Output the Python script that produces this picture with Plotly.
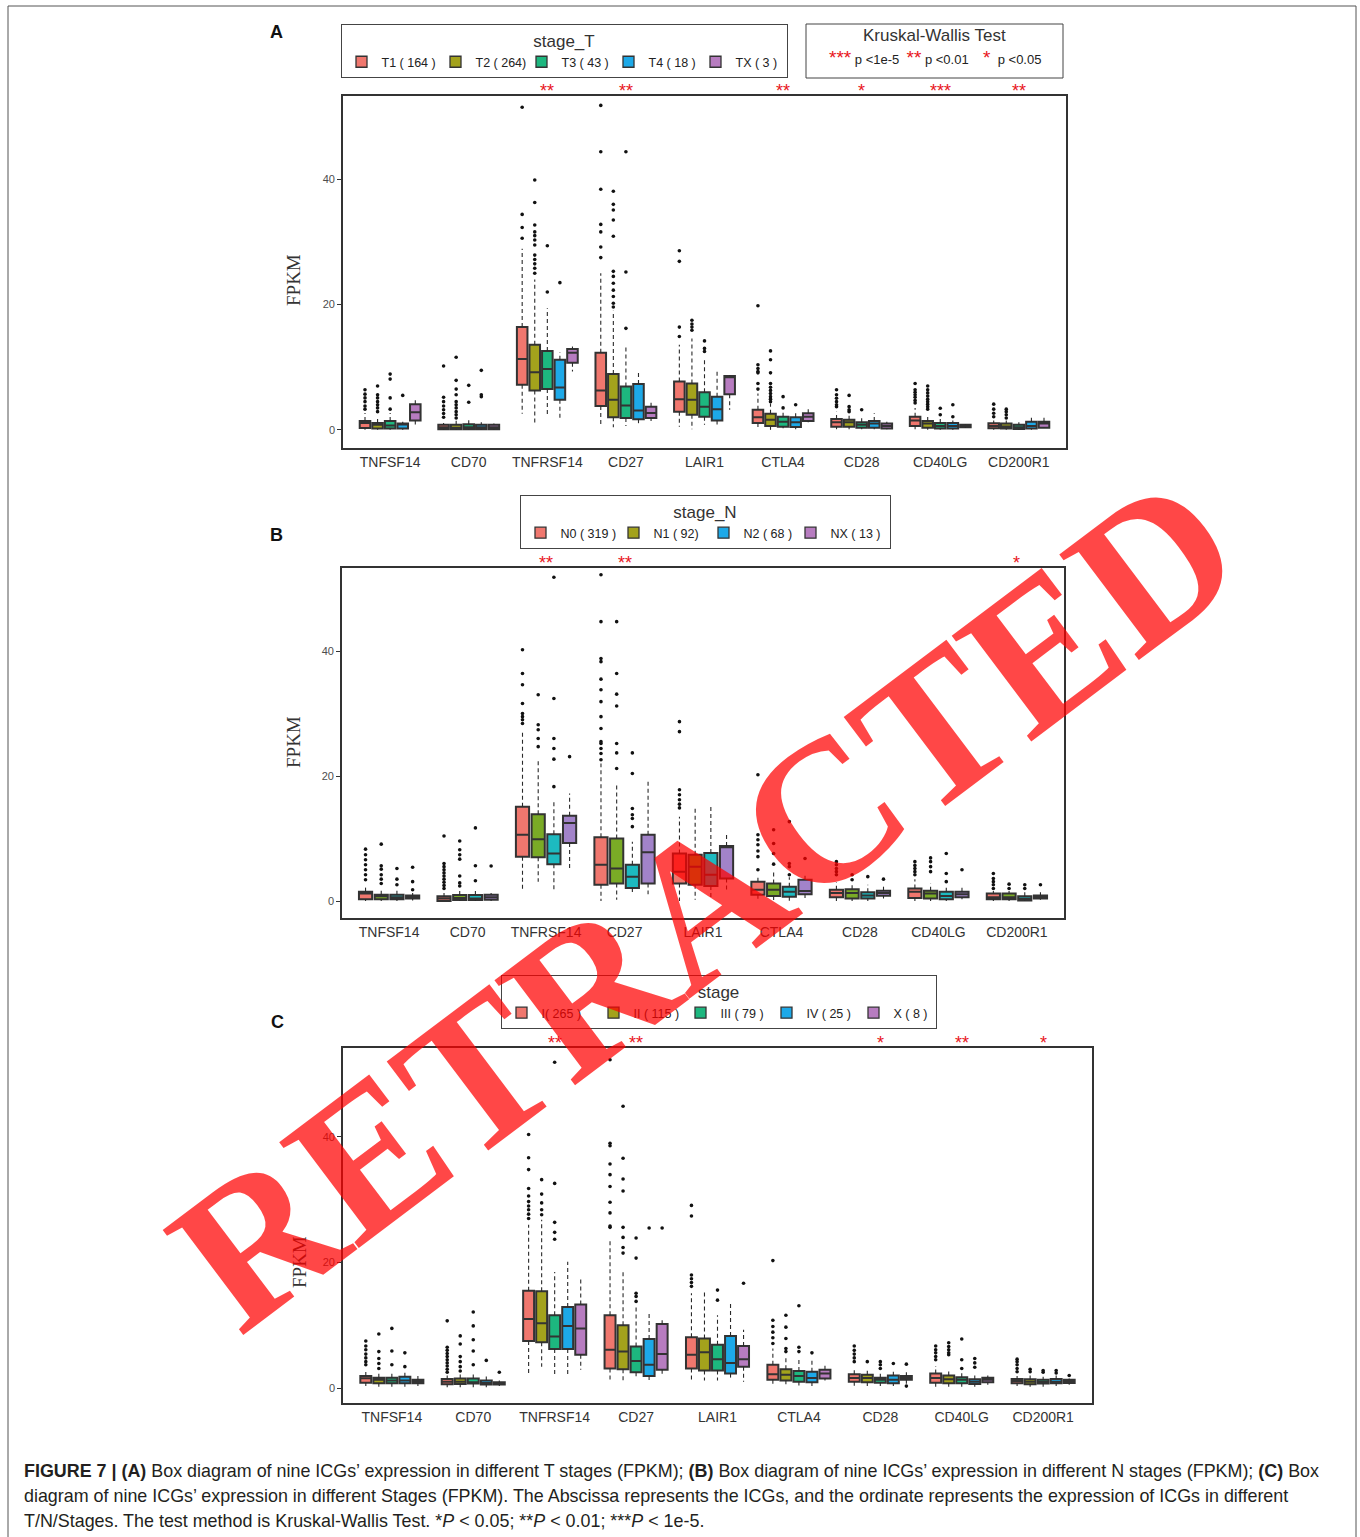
import plotly.graph_objects as go

genes = ["TNFSF14", "CD70", "TNFRSF14", "CD27", "LAIR1", "CTLA4", "CD28", "CD40LG", "CD200R1"]

# ---------------- Panel A : stage_T ----------------
A_names = ["T1 ( 164 )", "T2 ( 264)", "T3 ( 43 )", "T4 ( 18 )", "TX ( 3 )"]
A_q1 = [[0.3, 0.1, 7.2, 3.8, 2.9, 1.1, 0.5, 0.6, 0.25],
        [0.2, 0.1, 6.3, 2.0, 2.4, 0.6, 0.5, 0.35, 0.2],
        [0.2, 0.1, 6.5, 1.9, 2.1, 0.5, 0.35, 0.2, 0.15],
        [0.2, 0.1, 4.8, 1.7, 1.5, 0.45, 0.35, 0.2, 0.2],
        [1.5, 0.1, 10.7, 1.9, 5.7, 1.4, 0.2, 0.4, 0.35]]
A_med = [[1.1, 0.4, 11.3, 6.3, 4.9, 2.0, 1.2, 1.5, 0.6],
         [0.8, 0.35, 9.2, 4.8, 4.8, 1.6, 1.2, 1.0, 0.55],
         [0.7, 0.4, 9.7, 3.9, 3.7, 1.3, 0.8, 0.6, 0.4],
         [0.9, 0.4, 6.75, 3.1, 3.3, 1.2, 1.0, 0.6, 0.6],
         [2.8, 0.4, 12.3, 2.7, 8.4, 2.1, 0.6, 0.6, 1.0]]
A_q3 = [[1.4, 0.8, 16.4, 12.3, 7.7, 3.2, 1.75, 2.1, 1.05],
        [1.1, 0.8, 13.6, 8.9, 7.4, 2.55, 1.6, 1.4, 1.0],
        [1.4, 0.9, 12.6, 6.9, 6.0, 2.1, 1.2, 1.1, 0.8],
        [1.0, 0.8, 11.2, 7.3, 5.3, 2.0, 1.4, 1.1, 1.3],
        [4.1, 0.8, 12.9, 3.7, 8.6, 2.65, 1.0, 0.8, 1.3]]
A_lo = [[0.0, 0.0, 2.55, 0.9, 0.5, 0.0, 0.1, 0.1, 0.0],
        [0.0, 0.0, 1.1, 0.4, 0.1, 0.0, 0.1, 0.0, 0.0],
        [0.0, 0.0, 2.4, 0.6, 0.8, 0.25, 0.1, 0.0, 0.0],
        [0.0, 0.0, 1.9, 0.6, 0.6, 0.1, 0.1, 0.0, 0.0],
        [0.5, 0.0, 9.3, 1.4, 3.2, 1.2, 0.1, 0.3, 0.3]]
A_hi = [[2.7, 1.1, 28.9, 25.0, 13.6, 5.8, 2.9, 3.5, 1.5],
        [2.2, 1.5, 24.0, 19.0, 14.6, 4.2, 2.5, 2.5, 1.5],
        [2.7, 1.6, 19.4, 13.6, 11.2, 3.0, 2.2, 1.8, 1.2],
        [1.3, 1.2, 12.4, 9.4, 9.6, 2.9, 2.65, 1.5, 2.4],
        [5.0, 1.0, 13.3, 4.4, 8.7, 3.5, 1.3, 0.9, 2.2]]
A_out = [
    [[3.3, 3.8, 4.5, 5.1, 5.7, 6.4], [2.0, 2.6, 3.2, 3.8, 4.5, 5.2, 10.2], [30.6, 32.3, 34.4, 51.5],
     [27.5, 29.2, 31.6, 32.8, 38.4, 44.4, 51.8], [14.9, 16.4, 26.9, 28.6], [6.5, 7.4, 9.1, 9.3, 9.8, 10.4, 19.8],
     [3.7, 4.0, 4.5, 5.05, 5.6, 6.4], [4.3, 4.7, 5.2, 5.6, 6.0, 6.4, 7.4], [2.1, 2.65, 3.3, 4.1]],
    [[2.9, 3.5, 4.0, 4.5, 5.1, 5.6, 7.0], [1.9, 2.4, 2.9, 3.5, 4.0, 4.5, 5.6, 6.5, 7.9, 11.6],
     [25.0, 25.8, 26.5, 27.2, 27.9, 29.5, 30.3, 31.0, 31.6, 32.7, 36.3, 39.9],
     [19.6, 20.2, 21.3, 22.3, 23.4, 24.5, 25.3, 30.9, 33.5, 35.1, 36.0, 38.1], [15.9, 16.4, 16.9, 17.5],
     [4.5, 4.9, 5.3, 5.8, 6.3, 6.8, 7.4, 9.1, 11.2, 12.6], [2.9, 3.2, 3.7, 5.5],
     [3.3, 3.7, 4.1, 4.5, 4.9, 5.4, 5.9, 6.4, 7.0], [1.9, 2.4, 2.9, 3.3]],
    [[3.3, 5.1, 8.1, 8.9], [4.4, 7.1], [22.0, 29.4], [16.2, 25.2, 44.4], [12.5, 13.0, 14.2], [3.5, 5.3],
     [3.2], [2.4, 3.45], []],
    [[5.5], [5.3, 5.6, 9.5], [23.5], [], [], [4.0], [], [2.1, 4.0], []],
    [[], [], [], [], [], [], [], [], []]]
A_sig = ["", "", "**", "**", "", "**", "*", "***", "**"]

# ---------------- Panel B : stage_N ----------------
B_names = ["N0 ( 319 )", "N1 ( 92)", "N2 ( 68 )", "NX ( 13 )"]
B_q1 = [[0.3, 0.0, 7.1, 2.6, 2.8, 1.0, 0.6, 0.5, 0.3],
        [0.3, 0.15, 7.0, 2.8, 2.6, 0.8, 0.4, 0.4, 0.3],
        [0.3, 0.15, 5.9, 2.1, 2.4, 0.7, 0.4, 0.3, 0.1],
        [0.4, 0.2, 9.3, 2.8, 3.6, 1.1, 0.85, 0.6, 0.4]]
B_med = [[1.2, 0.4, 10.6, 5.8, 4.7, 1.8, 1.3, 1.5, 0.6],
         [0.75, 0.5, 9.9, 5.2, 5.5, 1.8, 1.3, 1.2, 0.6],
         [0.6, 0.4, 7.6, 3.9, 4.2, 1.5, 0.9, 0.8, 0.35],
         [0.65, 0.6, 12.5, 7.8, 8.6, 1.6, 1.3, 1.1, 0.65]]
B_q3 = [[1.5, 0.75, 15.1, 10.2, 7.6, 3.1, 1.8, 2.0, 1.2],
        [1.0, 0.95, 13.9, 10.0, 7.4, 2.8, 1.9, 1.65, 1.2],
        [1.0, 0.95, 10.7, 5.8, 7.7, 2.3, 1.4, 1.5, 0.75],
        [0.9, 1.0, 13.65, 10.6, 8.8, 3.4, 1.65, 1.5, 0.9]]
B_lo = [[0.0, 0.0, 1.5, 0.0, 0.0, 0.0, 0.0, 0.0, 0.0],
        [0.0, 0.0, 3.1, 0.2, 0.2, 0.0, 0.0, 0.0, 0.0],
        [0.0, 0.0, 1.9, 1.0, 0.2, 0.0, 0.0, 0.0, 0.0],
        [0.1, 0.0, 5.2, 1.1, 1.8, 0.5, 0.4, 0.3, 0.2]]
B_hi = [[2.6, 1.3, 27.1, 22.0, 13.5, 4.2, 3.0, 3.5, 1.6],
        [2.1, 1.8, 22.8, 18.6, 14.8, 4.7, 2.8, 2.8, 1.6],
        [1.8, 1.8, 16.2, 9.5, 15.1, 3.8, 2.6, 2.6, 1.4],
        [1.3, 1.3, 17.2, 19.1, 10.6, 4.4, 2.4, 2.6, 1.4]]
B_out = [
    [[3.4, 4.2, 5.0, 5.8, 6.6, 7.4, 8.3], [2.0, 2.5, 3.0, 3.5, 4.0, 4.5, 5.0, 5.5, 6.0, 10.4],
     [28.4, 29.0, 29.5, 30.0, 31.6, 34.6, 36.4, 40.2],
     [22.6, 23.6, 24.4, 25.2, 25.5, 27.6, 29.5, 31.9, 33.8, 35.5, 38.3, 38.8, 44.7, 52.2],
     [14.9, 15.5, 16.2, 17.0, 17.8, 27.1, 28.7], [5.0, 7.1, 8.0, 9.0, 9.8, 10.6, 20.2],
     [4.2, 4.7, 5.2, 5.8, 6.3], [4.2, 4.7, 5.2, 5.7, 6.3], [2.0, 2.6, 3.1, 3.6, 4.4]],
    [[2.8, 3.5, 4.2, 5.1, 5.65, 9.1], [2.4, 2.9, 4.0, 6.7, 7.4, 8.2, 9.6], [24.7, 26.0, 27.4, 28.2, 33.0],
     [21.2, 23.7, 25.2, 31.2, 33.1, 36.4, 44.7], [], [5.9, 7.6, 9.2, 11.4], [3.4, 4.2],
     [4.7, 5.5, 6.3, 6.9], [2.0, 2.7]],
    [[2.6, 3.5, 5.2], [3.25, 5.65, 11.7], [18.3, 22.7, 24.4, 26.0, 32.4, 51.8],
     [11.9, 13.2, 13.8, 14.8, 20.4, 23.7], [], [4.2, 5.5, 6.0, 12.7], [3.9], [3.1, 4.4, 7.6], [2.0, 2.6]],
    [[1.8, 3.1, 5.4], [5.6], [23.1], [], [], [6.8], [3.5], [5.0], [2.6]]]
B_sig = ["", "", "**", "**", "", "", "", "", "*"]

# ---------------- Panel C : stage ----------------
C_names = ["I( 265 )", "II ( 115 )", "III ( 79 )", "IV ( 25 )", "X ( 8 )"]
C_q1 = [[0.85, 0.6, 7.5, 3.1, 3.1, 1.3, 1.0, 0.85, 0.75],
        [0.75, 0.65, 7.3, 3.0, 2.8, 1.2, 0.9, 0.75, 0.6],
        [0.75, 0.7, 6.2, 2.5, 2.8, 1.0, 0.85, 0.75, 0.7],
        [0.75, 0.55, 6.2, 1.9, 2.3, 0.9, 0.75, 0.65, 0.75],
        [0.75, 0.55, 5.3, 2.9, 3.4, 1.5, 1.3, 0.9, 0.8]]
C_med = [[1.55, 1.0, 11.0, 6.1, 5.3, 2.2, 1.6, 1.6, 1.1],
         [1.3, 1.0, 10.3, 5.8, 5.7, 2.1, 1.6, 1.4, 1.0],
         [1.2, 0.9, 8.2, 4.3, 4.6, 1.9, 1.3, 1.3, 0.95],
         [1.2, 0.8, 9.9, 3.7, 4.0, 1.6, 1.3, 1.0, 1.0],
         [1.0, 0.7, 9.5, 5.4, 4.6, 2.3, 1.6, 1.3, 1.0]]
C_q3 = [[1.9, 1.45, 15.5, 11.6, 8.1, 3.7, 2.2, 2.3, 1.45],
        [1.65, 1.5, 15.4, 10.0, 7.9, 3.0, 2.1, 2.0, 1.4],
        [1.65, 1.5, 11.6, 6.6, 6.9, 2.7, 1.65, 1.7, 1.3],
        [1.8, 1.2, 12.9, 7.8, 8.3, 2.6, 2.0, 1.4, 1.45],
        [1.3, 0.9, 13.3, 10.2, 6.7, 2.9, 1.9, 1.65, 1.3]]
C_lo = [[0.3, 0.1, 2.0, 1.0, 1.0, 0.5, 0.3, 0.2, 0.3],
        [0.2, 0.1, 3.4, 1.2, 1.2, 0.6, 0.3, 0.2, 0.2],
        [0.2, 0.1, 2.2, 1.8, 1.2, 0.4, 0.3, 0.2, 0.2],
        [0.2, 0.1, 2.2, 1.2, 1.5, 0.3, 0.3, 0.2, 0.3],
        [0.3, 0.3, 2.9, 2.0, 1.0, 1.2, 0.6, 0.5, 0.5]]
C_hi = [[2.6, 2.0, 26.0, 23.6, 15.1, 6.3, 2.9, 3.5, 1.9],
        [2.4, 2.2, 26.8, 18.8, 15.5, 5.0, 2.9, 3.0, 2.0],
        [2.4, 2.2, 18.5, 13.0, 11.6, 4.5, 2.6, 2.5, 1.8],
        [2.6, 1.9, 20.1, 11.9, 13.8, 4.7, 2.6, 2.0, 2.0],
        [1.9, 1.2, 17.3, 10.8, 9.3, 3.7, 2.5, 2.0, 1.5]]
C_out = [
    [[3.7, 4.2, 4.8, 5.4, 6.1, 6.7, 7.5], [2.5, 3.0, 3.5, 4.0, 4.5, 5.0, 5.5, 6.0, 6.5, 10.7],
     [27.0, 27.7, 28.4, 29.0, 29.7, 30.6, 31.8, 34.8, 36.7, 40.4],
     [25.6, 25.8, 27.9, 29.6, 32.1, 34.0, 35.7, 38.6, 39.0, 52.3], [16.2, 16.8, 17.4, 18.0, 27.4, 29.1],
     [7.1, 8.0, 8.9, 9.8, 10.8, 20.3], [4.2, 4.8, 5.4, 6.0, 6.7], [4.5, 5.0, 5.6, 6.1, 6.7],
     [2.6, 3.1, 3.7, 4.2, 4.6]],
    [[3.1, 3.9, 4.7, 5.8, 8.6], [2.7, 3.4, 4.2, 5.0, 7.0, 8.3], [27.6, 28.4, 29.5, 30.9, 33.2],
     [21.5, 22.4, 24.0, 25.6, 31.4, 33.3, 36.6, 44.9], [], [5.8, 6.3, 7.9, 9.7, 11.6], [4.2],
     [5.3, 5.6, 6.1, 6.6, 7.2], [2.6, 3.0]],
    [[3.7, 5.9, 9.5], [3.7, 5.9, 7.7, 9.9, 12.1], [23.7, 24.8, 26.4, 32.6, 51.9],
     [13.8, 14.6, 15.1, 20.7, 23.9], [14.0, 15.6], [5.8, 6.5, 13.1], [3.1, 3.7, 4.2], [3.1, 4.5, 7.8],
     [2.5, 2.8]],
    [[3.4, 5.6], [4.4], [], [25.5], [], [5.6], [3.9], [3.3, 4.0, 4.7], [2.4, 2.8]],
    [[], [2.5], [], [25.5], [16.7], [], [0.3, 3.8], [], [2.0]]]
C_sig = ["", "", "**", "**", "", "", "*", "**", "*"]

# ---------------- colours ----------------
PAL5 = ["#F0776E", "#A3A21C", "#1DB77F", "#1DA9E8", "#B77CC0"]
B_box_colors = ["#F0776E", "#7AAB26", "#1DBAC0", "#A283C9"]
B_leg_colors = ["#F0776E", "#A3A21C", "#1DA9E8", "#B77CC0"]

# legend entry widths (px) so the legend rows have the reference spacing
A_legw = [49, 41, 42, 42, 46]
B_legw = [48, 45, 42, 54]
C_legw = [47, 42, 41, 42, 37]

W, H = 1360, 1537


def px(x):
    return x / W


def py(y):
    return 1 - y / H


fig = go.Figure()


def add_panel(k, q1s, meds, q3s, los, his, outs, box_colors, names, leg_colors, legend_id, legw):
    xa = "x" if k == 1 else "x%d" % k
    ya = "y" if k == 1 else "y%d" % k
    G = len(q1s)
    s = 0.8 / G
    bw = 0.84 * s
    for g in range(G):
        pos = [i + (g - (G - 1) / 2) * s for i in range(len(genes))]
        wx, wy = [], []
        for i, p in enumerate(pos):
            wx += [p, p, None, p, p, None]
            wy += [q3s[g][i], his[g][i], None, q1s[g][i], los[g][i], None]
        fig.add_trace(go.Scatter(x=wx, y=wy, mode="lines", xaxis=xa, yaxis=ya,
                                 line=dict(color="#2a2a2a", width=1.1, dash="4px,3px"),
                                 showlegend=False, hoverinfo="skip"))
        fig.add_trace(go.Box(x=pos, q1=q1s[g], median=meds[g], q3=q3s[g],
                             lowerfence=q1s[g], upperfence=q3s[g], width=bw,
                             fillcolor=box_colors[g], line=dict(color="#333333", width=2.0),
                             whiskerwidth=0, boxpoints=False, showlegend=False,
                             xaxis=xa, yaxis=ya, name=names[g]))
        ox, oy = [], []
        for i, p in enumerate(pos):
            for v in outs[g][i]:
                ox.append(p)
                oy.append(v)
        fig.add_trace(go.Scatter(x=ox, y=oy, mode="markers", xaxis=xa, yaxis=ya,
                                 marker=dict(color="#111111", size=3.6),
                                 showlegend=False, hoverinfo="skip"))
        fig.add_trace(go.Scatter(x=[None], y=[None], mode="markers", xaxis=xa, yaxis=ya,
                                 marker=dict(symbol="square", size=11, color=leg_colors[g],
                                             line=dict(color="#333333", width=1.3)),
                                 name=names[g], legend=legend_id, legendwidth=legw[g],
                                 showlegend=True))


add_panel(1, A_q1, A_med, A_q3, A_lo, A_hi, A_out, PAL5, A_names, PAL5, "legend", A_legw)
add_panel(2, B_q1, B_med, B_q3, B_lo, B_hi, B_out, B_box_colors, B_names, B_leg_colors, "legend2", B_legw)
add_panel(3, C_q1, C_med, C_q3, C_lo, C_hi, C_out, PAL5, C_names, PAL5, "legend3", C_legw)

# axes
panels = [
    dict(x0=343, x1=1066, y0=96, y1=448, yr=[-2.9, 53.3]),
    dict(x0=342, x1=1064, y0=568, y1=918, yr=[-2.72, 53.28]),
    dict(x0=343, x1=1092, y0=1048, y1=1403, yr=[-2.39, 54.18]),
]
axis_common = dict(showline=True, mirror=True, linecolor="#333333", linewidth=1.6,
                   showgrid=False, zeroline=False)
for k, p in enumerate(panels, start=1):
    xk = "xaxis" if k == 1 else "xaxis%d" % k
    yk = "yaxis" if k == 1 else "yaxis%d" % k
    fig.layout[xk] = dict(domain=[px(p["x0"]), px(p["x1"])], range=[-0.6, 8.6],
                          tickmode="array", tickvals=list(range(len(genes))), ticktext=genes,
                          ticks="", tickfont=dict(family="Liberation Sans", size=14, color="#333333"),
                          anchor="y" if k == 1 else "y%d" % k, fixedrange=True, **axis_common)
    fig.layout[yk] = dict(domain=[py(p["y1"]), py(p["y0"])], range=p["yr"],
                          tickmode="array", tickvals=[0, 20, 40], ticks="outside", ticklen=4,
                          tickcolor="#333333", tickwidth=1,
                          tickfont=dict(family="Liberation Sans", size=11, color="#4d4d4d"),
                          anchor="x" if k == 1 else "x%d" % k, fixedrange=True, **axis_common)

annotations = []
# significance stars
for k, (sig, p) in enumerate(zip([A_sig, B_sig, C_sig], panels), start=1):
    xref = "x" if k == 1 else "x%d" % k
    for i, sg in enumerate(sig):
        if sg:
            annotations.append(dict(x=i, y=py(p["y0"] + 7), xref=xref, yref="paper", text=sg,
                                    showarrow=False, yanchor="bottom", xanchor="center",
                                    font=dict(family="Liberation Sans", size=18, color="#E8141B")))

# y-axis titles
for (xx, yy) in [(293, 280), (293, 742), (299, 1262)]:
    annotations.append(dict(x=px(xx), y=py(yy), xref="paper", yref="paper", text="FPKM",
                            textangle=-90, showarrow=False, xanchor="center", yanchor="middle",
                            font=dict(family="Liberation Serif", size=19, color="#333333")))

# panel letters
for (lab, xx, yy) in [("A", 276, 32), ("B", 276, 535), ("C", 277, 1022)]:
    annotations.append(dict(x=px(xx), y=py(yy), xref="paper", yref="paper", text="<b>%s</b>" % lab,
                            showarrow=False, xanchor="center", yanchor="middle",
                            font=dict(family="Liberation Sans", size=18, color="#111111")))

# Kruskal-Wallis box
annotations.append(dict(x=px(934.5), y=py(35), xref="paper", yref="paper", text="Kruskal-Wallis Test",
                        showarrow=False, xanchor="center", yanchor="middle",
                        font=dict(family="Liberation Sans", size=17, color="#333333")))
red = "<span style='color:#E8141B;font-size:19px'>%s</span>"
kw_text = (red % "***") + " p <1e-5  " + (red % "**") + " p <0.01    " + (red % "*") + "  p <0.05"
annotations.append(dict(x=px(934.5), y=py(58), xref="paper", yref="paper", text=kw_text,
                        showarrow=False, xanchor="center", yanchor="middle",
                        font=dict(family="Liberation Sans", size=13, color="#222222")))

# caption
cap = [
    "<b>FIGURE 7 | (A)</b> Box diagram of nine ICGs’ expression in different T stages (FPKM); "
    "<b>(B)</b> Box diagram of nine ICGs’ expression in different N stages (FPKM); <b>(C)</b> Box",
    "diagram of nine ICGs’ expression in different Stages (FPKM). The Abscissa represents the ICGs, "
    "and the ordinate represents the expression of ICGs in different",
    "T/N/Stages. The test method is Kruskal-Wallis Test. *<i>P</i> &lt; 0.05; **<i>P</i> &lt; 0.01; "
    "***<i>P</i> &lt; 1e-5.",
]
for j, line in enumerate(cap):
    annotations.append(dict(x=px(22), y=py(1471 + 25 * j), xref="paper", yref="paper", text=line,
                            showarrow=False, xanchor="left", yanchor="middle",
                            font=dict(family="Liberation Sans", size=17.9, color="#231f20")))

# watermark
annotations.append(dict(x=px(705), y=py(902), xref="paper", yref="paper", text="<b>RETRACTED</b>",
                        textangle=-37, showarrow=False, xanchor="center", yanchor="middle",
                        font=dict(family="Liberation Serif", size=202, color="rgba(255,0,0,0.72)")))

shapes = [
    dict(type="rect", xref="paper", yref="paper", x0=px(806), x1=px(1063), y0=py(78), y1=py(24),
         line=dict(color="#444444", width=1)),
    dict(type="rect", xref="paper", yref="paper", x0=px(8), x1=px(1356), y0=-0.01, y1=py(6),
         line=dict(color="#555555", width=1)),
]

leg_common = dict(orientation="h", xanchor="center", yanchor="top", bgcolor="white",
                  bordercolor="#444444", borderwidth=1,
                  font=dict(family="Liberation Sans", size=12.5, color="#222222"))
fig.update_layout(
    width=W, height=H, margin=dict(l=0, r=0, t=0, b=0),
    paper_bgcolor="white", plot_bgcolor="white",
    annotations=annotations, shapes=shapes,
    legend=dict(x=px(564), y=py(24), title=dict(text="stage_T", side="top center",
                font=dict(family="Liberation Sans", size=17, color="#333333")), **leg_common),
    legend2=dict(x=px(705), y=py(495), title=dict(text="stage_N", side="top center",
                 font=dict(family="Liberation Sans", size=17, color="#333333")), **leg_common),
    legend3=dict(x=px(718.5), y=py(975), title=dict(text="stage", side="top center",
                 font=dict(family="Liberation Sans", size=17, color="#333333")), **leg_common),
)

fig.write_html("out.html", config={"displayModeBar": False},
               post_script="document.body.style.margin='0px';document.body.style.overflow='hidden';")
